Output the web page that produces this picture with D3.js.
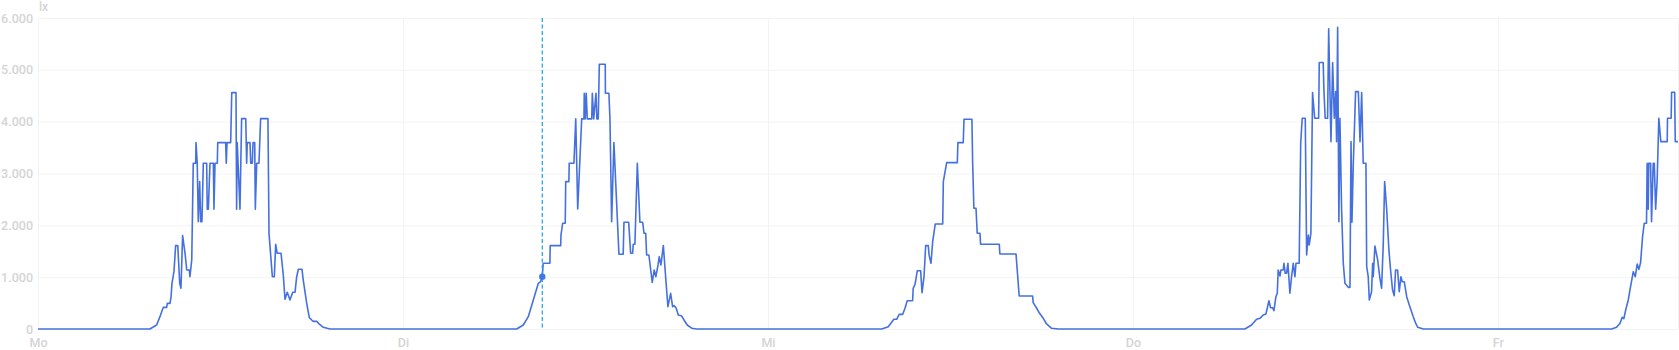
<!DOCTYPE html>
<html>
<head>
  <meta charset="utf-8">
  <script src="https://cdn.jsdelivr.net/npm/d3@7"></script>
  <style>
    body { margin: 0; background: #fff; }
    svg { display: block; font-family: Roboto, "Noto Sans", sans-serif; }
  </style>
</head>
<body>
  <svg width="1679" height="350"></svg>
  <script>

  // hours since Monday 00:00 and illuminance in lx
  var hours = [
    0, 7.36, 7.80, 8.02, 8.24, 8.46, 8.50, 8.68, 8.75, 8.81, 8.94, 9.05, 9.19, 9.32, 9.40, 9.51, 9.67, 9.78, 9.95, 9.99,
    10.11, 10.21, 10.37, 10.39, 10.47, 10.54, 10.63, 10.70, 10.78, 10.87, 11.09, 11.13, 11.20, 11.31, 11.53, 11.57, 11.64, 11.79, 11.82, 12.34,
    12.38, 12.43, 12.67, 12.74, 13.02, 13.06, 13.10, 13.28, 13.39, 13.66, 13.72, 13.76, 13.94, 13.99, 14.09, 14.14, 14.25, 14.29, 14.38, 14.53,
    14.64, 15.12, 15.19, 15.41, 15.54, 15.63, 15.73, 15.98, 16.13, 16.24, 16.39, 16.57, 16.75, 16.90, 17.01, 17.12, 17.36, 17.44, 17.67, 17.84,
    18.00, 18.10, 18.33, 18.48, 18.76, 19.20,
    31.48, 31.91, 32.24, 32.57, 32.90, 33.05, 33.16, 33.22, 33.66, 33.68, 34.37, 34.39, 34.50, 34.67, 34.70, 34.91, 34.93, 35.24, 35.36, 35.49,
    35.75, 35.90, 35.92, 35.98, 36.05, 36.12, 36.41, 36.45, 36.54, 36.69, 36.75, 36.84, 36.91, 37.30, 37.31, 37.54, 37.61, 37.72, 37.87, 38.20,
    38.48, 38.53, 38.84, 38.97, 39.10, 39.14, 39.25, 39.41, 39.58, 39.76, 39.85, 39.96, 40.02, 40.17, 40.39, 40.52, 40.63, 40.77, 40.85, 40.96,
    41.12, 41.27, 41.42, 41.60, 41.73, 41.84, 41.95, 42.02, 42.10, 42.33, 42.48, 42.69, 42.98, 43.31,
    55.48, 55.91, 56.28, 56.46, 56.63, 56.86, 57.01, 57.16, 57.51, 57.55, 57.67, 57.82, 58.04, 58.13, 58.26, 58.37, 58.54, 58.60, 58.72, 58.83,
    59.00, 59.49, 59.53, 59.75, 60.45, 60.49, 60.84, 60.89, 61.41, 61.46, 61.54, 61.68, 61.76, 61.94, 61.98, 63.21, 63.25, 64.31, 64.52, 65.40,
    65.44, 65.67, 65.86, 66.10, 66.32, 66.65, 67.09,
    79.36, 79.80, 80.13, 80.35, 80.57, 80.74, 80.83, 80.94, 81.05, 81.18, 81.27, 81.40, 81.49, 81.55, 81.67, 81.73, 81.88, 81.93, 82.01, 82.10,
    82.19, 82.32, 82.43, 82.54, 82.65, 82.72, 82.93, 83.03, 83.13, 83.33, 83.42, 83.53, 83.59, 83.70, 83.81, 83.95, 84.21, 84.25, 84.51, 84.56,
    84.64, 84.80, 84.87, 85.02, 85.13, 85.24, 85.33, 85.39, 85.46, 85.54, 85.61, 85.72, 85.83, 85.94, 86.16, 86.27, 86.34, 86.40, 86.49, 86.64,
    86.82, 86.93, 87.04, 87.14, 87.32, 87.37, 87.47, 87.54, 87.69, 87.76, 87.80, 87.91, 88.09, 88.24, 88.35, 88.46, 88.55, 88.68, 88.83, 88.94,
    89.07, 89.18, 89.27, 89.40, 89.51, 89.62, 89.71, 89.84, 90.00, 90.17, 90.32, 90.43, 90.61, 90.73, 91.09,
    103.48, 103.80, 104.03, 104.17, 104.28, 104.40, 104.57, 104.72, 104.90, 105.03, 105.16, 105.27, 105.38, 105.51, 105.62, 105.77, 105.81, 105.88, 105.92, 106.04,
    106.10, 106.21, 106.28, 106.37, 106.47, 106.58, 106.71, 107.13, 107.15, 107.39, 107.42, 107.62, 107.66, 107.84
  ];

  var lux = [
    0, 0, 77, 238, 418, 418, 495, 495, 623, 881, 1106, 1608, 1608, 881, 785, 1801, 1461, 1139, 1139, 1009,
    1332, 3198, 3198, 3596, 3198, 2071, 2843, 2071, 2071, 3198, 3198, 2310, 2310, 3198, 3198, 2310, 3198, 3198, 3596, 3596,
    3198, 3596, 3596, 4561, 4561, 2310, 3596, 2310, 4059, 4059, 3198, 3596, 3596, 3198, 3198, 3596, 3596, 2310, 3198, 3198,
    4059, 4059, 1846, 1009, 1009, 1634, 1461, 1461, 1042, 573, 708, 560, 708, 708, 1009, 1152, 1152, 946, 495, 218,
    174, 148, 148, 97, 33, 0,
    0, 77, 238, 560, 881, 913, 1010, 1268, 1268, 1608, 1608, 1814, 2040, 2040, 2843, 2843, 3198, 3198, 4053, 2316,
    4053, 4053, 4549, 4053, 4549, 4053, 4053, 4549, 4053, 4549, 4053, 4053, 5109, 5109, 4549, 4549, 4053, 2071, 3596, 1442,
    1442, 2059, 2059, 1461, 1461, 1634, 1634, 3198, 2059, 2059, 1846, 1846, 1428, 1428, 901, 1139, 1009, 1235, 1395, 1235,
    1608, 1009, 430, 689, 430, 450, 412, 353, 270, 250, 174, 77, 15, 0,
    0, 45, 187, 187, 283, 283, 400, 546, 546, 785, 863, 1125, 1125, 701, 1009, 1608, 1608, 1415, 1268, 1685,
    2027, 2027, 2843, 3210, 3210, 3596, 3596, 4047, 4047, 3198, 2329, 2329, 1846, 1846, 1634, 1634, 1448, 1448, 637, 637,
    508, 400, 303, 206, 97, 13, 0,
    0, 77, 187, 206, 270, 290, 400, 546, 411, 411, 353, 623, 689, 1139, 1023, 1139, 1139, 1268, 1075, 1075,
    1268, 689, 1009, 1268, 1009, 1268, 1268, 3584, 4066, 4066, 1428, 1814, 1621, 1846, 4561, 4066, 4066, 5141, 5141, 4580,
    4066, 4066, 5790, 3615, 5141, 4066, 4580, 3615, 5822, 2071, 4066, 2297, 1268, 881, 804, 804, 3615, 2059, 3198, 4580,
    4580, 3615, 4560, 3198, 3198, 1203, 1009, 560, 720, 1268, 1009, 1602, 1332, 978, 785, 1654, 2843, 2329, 1525, 1139,
    753, 643, 1139, 1139, 720, 1009, 913, 913, 623, 463, 334, 238, 97, 33, 0,
    0, 33, 110, 225, 200, 366, 560, 817, 1106, 1009, 1255, 1150, 1281, 1782, 2040, 2040, 3198, 2310, 3198, 3198,
    2071, 3198, 3198, 2310, 2876, 4066, 3615, 3615, 4066, 4066, 4567, 4567, 3615, 3615
  ];

  var yTicks = [0, 1000, 2000, 3000, 4000, 5000, 6000];
  var dayNames = ["So", "Mo", "Di", "Mi", "Do", "Fr", "Sa"];
  var unit = "lx";
  var cursorHour = 33.16;

  var svg = d3.select("svg"),
      width = +svg.attr("width"),
      height = +svg.attr("height"),
      margin = {top: 18, right: 1, bottom: 21, left: 38};

  var start = new Date(2024, 0, 1); // a Monday
  function toDate(h) { return new Date(start.getTime() + h * 3600e3); }

  var data = hours.map(function(h, i) { return {t: toDate(h), v: lux[i]}; });

  var x = d3.scaleTime()
      .domain([start, toDate(hours[hours.length - 1])])
      .range([margin.left, width - margin.right]);

  var y = d3.scaleLinear()
      .domain([0, 6000])
      .range([height - margin.bottom, margin.top]);

  var de = d3.formatLocale({decimal: ",", thousands: ".", grouping: [3], currency: ["", " €"]});
  var fmt = de.format(",");

  // grid
  svg.append("g")
    .selectAll("line")
    .data(yTicks)
    .enter().append("line")
      .attr("x1", margin.left)
      .attr("x2", width - margin.right)
      .attr("y1", function(d) { return y(d) + 0.5; })
      .attr("y2", function(d) { return y(d) + 0.5; })
      .attr("stroke", "#f3f3f3");

  var days = x.ticks(d3.timeDay.every(1));
  svg.append("g")
    .selectAll("line")
    .data(days.concat([x.domain()[1]]))
    .enter().append("line")
      .attr("x1", function(d) { return Math.round(x(d)) + 0.5; })
      .attr("x2", function(d) { return Math.round(x(d)) + 0.5; })
      .attr("y1", margin.top)
      .attr("y2", height - margin.bottom)
      .attr("stroke", "#f3f3f3");

  // y axis labels
  svg.append("g")
    .attr("transform", "translate(" + (margin.left - 5) + ",0)")
    .call(d3.axisLeft(y).tickValues(yTicks).tickSize(0).tickPadding(0).tickFormat(fmt))
    .call(function(g) { g.select(".domain").remove(); })
    .selectAll("text")
      .attr("fill", "#d4d4d4")
      .attr("font-size", 12.5)
      .attr("font-weight", 500)
      .attr("font-family", "Roboto, sans-serif");

  // x axis labels
  svg.append("g")
    .attr("transform", "translate(0," + (height - margin.bottom + 6) + ")")
    .call(d3.axisBottom(x).tickValues(days).tickSize(0).tickPadding(3)
      .tickFormat(function(d) { return dayNames[d.getDay()]; }))
    .call(function(g) { g.select(".domain").remove(); })
    .selectAll("text")
      .attr("fill", "#d4d4d4")
      .attr("font-size", 12.5)
      .attr("font-weight", 500)
      .attr("font-family", "Roboto, sans-serif");

  svg.append("text")
      .attr("x", margin.left + 1)
      .attr("y", 11)
      .attr("fill", "#d4d4d4")
      .attr("font-size", 12)
      .attr("font-weight", 500)
      .text(unit);

  // series
  var line = d3.line()
      .x(function(d) { return x(d.t); })
      .y(function(d) { return y(d.v); });

  svg.append("path")
      .datum(data)
      .attr("fill", "none")
      .attr("stroke", "#4570e0")
      .attr("stroke-width", 1.6)
      .attr("stroke-linejoin", "round")
      .attr("d", line);

  // hover cursor
  var ct = toDate(cursorHour);
  var bis = d3.bisector(function(d) { return d.t; }).center;
  var cp = data[bis(data, ct)];

  svg.append("line")
      .attr("x1", x(ct))
      .attr("x2", x(ct))
      .attr("y1", margin.top)
      .attr("y2", height - margin.bottom)
      .attr("stroke", "#1a9fe8")
      .attr("stroke-width", 1.2)
      .attr("stroke-dasharray", "4,2.5");

  svg.append("circle")
      .attr("cx", x(cp.t))
      .attr("cy", y(cp.v))
      .attr("r", 3.2)
      .attr("fill", "#3f77e6");

  </script>
</body>
</html>
